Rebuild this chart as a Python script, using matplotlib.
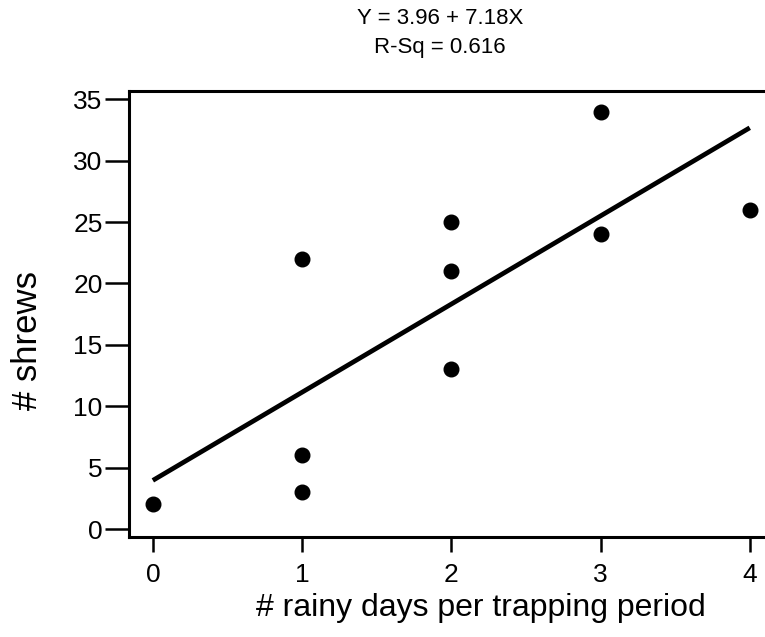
import numpy as np
import matplotlib
matplotlib.use('Agg')
import matplotlib.pyplot as plt

plt.rcParams['font.family'] = ['Liberation Sans Narrow', 'Liberation Sans', 'DejaVu Sans']

# data
rainy_days = [0, 1, 1, 1, 2, 2, 2, 3, 3, 4]
shrews = [2, 22, 6, 3, 25, 21, 13, 34, 24, 26]
intercept = 3.96
slope = 7.18
r_sq = 0.616
x_ticks = [0, 1, 2, 3, 4]
y_ticks = [0, 5, 10, 15, 20, 25, 30, 35]

fig = plt.figure(figsize=(7.65, 6.37), dpi=100)
ax = fig.add_axes([0.1686, 0.157, 0.87, 0.7006])

xl = np.array([0, 4])
ax.plot(xl, intercept + slope * xl, color='black', lw=3.4, solid_capstyle='butt')
ax.plot(rainy_days, shrews, 'o', color='black', ms=10.5)

ax.set_xlim(-0.16, 4.3)
ax.set_ylim(-0.65, 35.7)
ax.set_xticks(x_ticks)
ax.set_yticks(y_ticks)
ax.tick_params(axis='y', length=17, width=1.8, labelsize=19, pad=2)
ax.tick_params(axis='x', length=11, width=1.8, labelsize=19, pad=8)
for s in ax.spines.values():
    s.set_linewidth(2.2)
ax.spines['right'].set_visible(False)

fig.text(0.629, 0.045, '# rainy days per trapping period', ha='center', va='center', fontsize=23)
fig.text(0.036, 0.466, '# shrews', ha='center', va='center', rotation=90, fontsize=25)

fig.text(0.575, 0.971, 'Y = %.2f + %.2fX' % (intercept, slope), ha='center', va='center', fontsize=16)
fig.text(0.575, 0.926, 'R-Sq = %.3f' % r_sq, ha='center', va='center', fontsize=16)

fig.savefig('out.png', dpi=100)
